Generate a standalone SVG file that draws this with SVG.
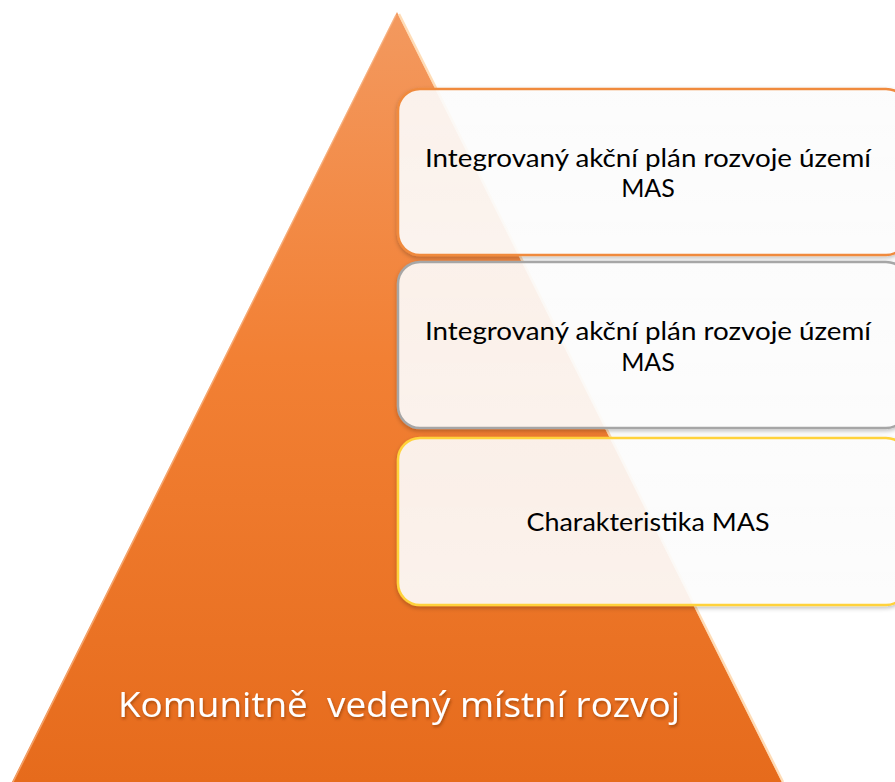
<svg xmlns="http://www.w3.org/2000/svg" width="895" height="782" viewBox="0 0 895 782">
<defs>
<linearGradient id="tri" x1="0" y1="0" x2="0" y2="1">
<stop offset="0" stop-color="#F3995F"/>
<stop offset="0.45" stop-color="#F28034"/>
<stop offset="1" stop-color="#E66B1C"/>
</linearGradient>
<linearGradient id="boxfill" x1="0" y1="0" x2="0" y2="1">
<stop offset="0" stop-color="#FFFFFF" stop-opacity="0.88"/>
<stop offset="1" stop-color="#FFFFFF" stop-opacity="0.9"/>
</linearGradient>
<filter id="shadow" x="-10%" y="-10%" width="120%" height="130%">
<feDropShadow dx="0" dy="2" stdDeviation="2" flood-color="#000" flood-opacity="0.25"/>
</filter>
<filter id="tshadow" x="-5%" y="-20%" width="110%" height="160%">
<feDropShadow dx="1" dy="2" stdDeviation="1.5" flood-color="#7a3000" flood-opacity="0.6"/>
</filter>
</defs>
<style>
.box { fill: url(#boxfill); stroke-width: 2.5; filter: url(#shadow); }
.lbl { font-family: Lato, "Liberation Sans", sans-serif; font-size: 25px; fill: #000; text-anchor: middle; }
.base { font-family: "Open Sans", "Liberation Sans", sans-serif; font-size: 34px; fill: #FFFFFF; white-space: pre; filter: url(#tshadow); }
</style>
<rect width="895" height="782" fill="#FFFFFF"/>
<g id="pyramid">
<polygon points="397,12 12,782 782,782" fill="url(#tri)"/>
<line x1="399" y1="14" x2="783" y2="782" stroke="#FFD9B0" stroke-width="2.5" opacity="0.9"/>
<line x1="396" y1="15" x2="13" y2="782" stroke="#F8B88A" stroke-width="1.5" opacity="0.7"/>
<text class="base" x="118" y="717" textLength="562" lengthAdjust="spacingAndGlyphs">Komunitně  vedený místní rozvoj</text>
</g>
<g id="box1">
<rect class="box" x="398" y="89" width="510" height="166" rx="22" stroke="#F08A3E"/>
<text class="lbl" x="648" y="167" textLength="446" lengthAdjust="spacingAndGlyphs">Integrovaný akční plán rozvoje území</text>
<text class="lbl" x="648" y="197">MAS</text>
</g>
<g id="box2">
<rect class="box" x="398" y="262" width="510" height="166" rx="22" stroke="#A6A6A6"/>
<text class="lbl" x="648" y="340" textLength="446" lengthAdjust="spacingAndGlyphs">Integrovaný akční plán rozvoje území</text>
<text class="lbl" x="648" y="371">MAS</text>
</g>
<g id="box3">
<rect class="box" x="398" y="438" width="510" height="167" rx="22" stroke="#FFD23A"/>
<text class="lbl" x="648" y="531" textLength="243" lengthAdjust="spacingAndGlyphs">Charakteristika MAS</text>
</g>
<g id="connectors"/>
</svg>
